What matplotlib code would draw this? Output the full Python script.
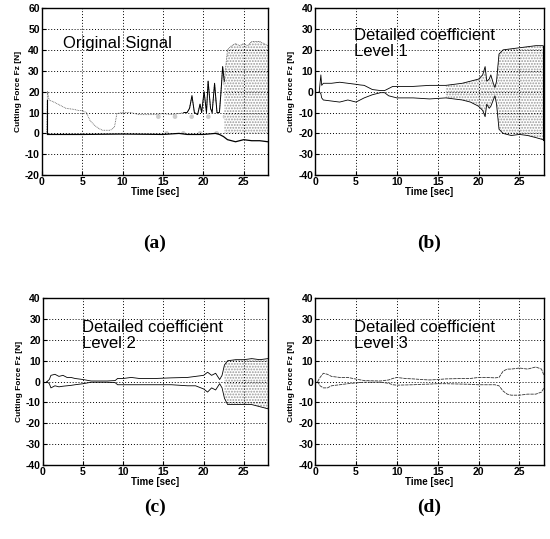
import matplotlib
matplotlib.use("Agg")
import matplotlib.pyplot as plt

plt.rcParams["hatch.linewidth"] = 0.9
plt.rcParams["axes.unicode_minus"] = False

# (a) original signal
t_a = [0.6, 0.7, 0.9, 1.5, 2.0, 2.5, 3.0, 4.0, 4.5, 5.0, 5.5, 6.0, 6.5, 7.0, 7.5, 8.5, 9.0, 9.3,
       10.0, 11.0, 12.0, 13.0, 14.0, 15.0, 16.0, 17.0, 17.6, 18.0, 18.3, 18.6, 18.9, 19.3, 19.6,
       19.8, 20.1, 20.4, 20.6, 20.9, 21.1, 21.4, 21.7, 22.0, 22.2, 22.4, 22.6, 23.0, 23.5, 24.0,
       24.5, 25.0, 25.5, 26.0, 27.0, 28.0]
up_a = [0, 20, 16, 15, 14, 13, 12, 11.5, 11, 11, 10, 6, 4, 2.5, 1.5, 1.5, 3, 9.5,
        10, 10, 9, 9, 9, 9.5, 9, 9.5, 10, 10, 12, 18, 10, 9, 14,
        10, 20, 10, 25, 12, 10, 24, 10, 10, 20, 32, 25, 40, 42, 43,
        42, 43, 42, 44, 44, 42]
t_a_low = [0.7, 2.0, 5.0, 10.0, 15.0, 17.0, 18.0, 20.0, 21.5, 22.0, 22.5, 23.0, 24.0, 25.0,
           26.0, 27.0, 28.0]
low_a = [-0.5, -0.5, -0.5, -0.3, -0.5, 0, -0.5, -0.5, 0, -0.5, -1.5, -3, -4, -3, -3.5, -3.5, -4]

# (b) detailed coefficient level 1
t_b = [0.5, 0.7, 0.8, 1.0, 2.0, 3.0, 4.0, 5.0, 5.5, 6.0, 7.0, 8.0, 8.5, 9.0, 9.5, 10.0, 12.0,
       14.0, 16.0, 17.0, 18.0, 19.0, 20.0, 20.5, 20.8, 21.0, 21.3, 21.5, 21.8, 22.0, 22.2, 22.5,
       23.0, 24.0, 25.0, 26.0, 27.0, 27.9]
up_b = [0, 8, 3, 4, 4, 4.5, 4, 3.5, 3.2, 3, 1, 0.5, 0.5, 1.5, 2.5, 2.5, 2.5,
        3, 3, 3.5, 4, 5, 6, 8, 12, 5, 6, 8, 4, 2, 5, 18,
        20, 20.5, 21, 21.5, 22, 22]
low_b = [0, -1, -3, -4, -4.5, -5, -4, -5, -4, -3, -1.5, -0.5, -0.5, -2, -2.5, -3, -3,
         -3.5, -3, -3.5, -4, -5, -7, -9, -12, -6, -8, -7, -4, -2, -6, -18,
         -20, -21, -20.5, -21, -22, -23]

# (c) detailed coefficient level 2
t_c = [0.5, 0.8, 1.0, 1.5, 2.0, 2.5, 3.0, 3.5, 4.0, 5.0, 6.0, 8.0, 9.0, 9.3, 10.0, 11.0, 12.0,
       14.0, 16.0, 18.0, 19.0, 20.0, 20.5, 21.0, 21.5, 22.0, 22.3, 22.6, 23.0, 24.0, 25.0,
       26.0, 27.0, 28.0]
up_c = [0, 1, 3, 3.5, 2.5, 3, 2, 2, 1.5, 1, 0.3, 0.3, 0.5, 1.5, 1.5, 2, 1.5,
        1.5, 1.8, 2, 2.5, 3, 4.5, 3, 4, 1, 3, 8, 10, 10.5, 10.5,
        11, 10.5, 11]
low_c = [0, -1, -3, -2, -2.5, -2.2, -2, -1.8, -1.5, -1, -0.3, -0.3, -0.5, -1.5, -1.5, -1.5, -1.5,
         -1.5, -1.5, -2, -2, -3.5, -5, -3, -4, -1, -3, -8, -11, -11, -11,
         -11, -12, -13]

# (d) detailed coefficient level 3
t_d = [0.3, 0.6, 1.0, 1.5, 2.0, 3.0, 4.0, 5.0, 6.0, 8.0, 9.0, 9.5, 10.0, 11.0, 12.0, 13.0,
       14.0, 15.0, 16.0, 18.0, 19.0, 20.0, 21.0, 22.0, 22.5, 23.0, 23.5, 24.0, 25.0, 26.0,
       27.0, 27.7, 28.0]
up_d = [0, 2, 4, 3.5, 2.5, 2, 2, 1.2, 0.5, 0.3, 0.8, 1.5, 2, 1.5, 1.3, 1,
        0.8, 1, 1.3, 1.5, 1.5, 2, 2, 1.8, 2, 5, 6, 6, 6.5, 6,
        7, 6, 3]
low_d = [0, -2, -3, -3, -2, -1.5, -1, -0.6, -0.3, -0.3, -0.8, -1.5, -1.7, -1.6, -1.5, -1.3,
         -1.2, -1, -1, -1.2, -1.3, -1.5, -1.5, -1.5, -2, -4.5, -6, -6.5, -6.5, -6,
         -6, -5, -3]

xticks = [0, 5, 10, 15, 20, 25]
tick_font = dict(family="Liberation Sans", size=7.5, weight="bold")


def _setup(ax, ylim, text, tx, ty, letter, letter_y):
    ax.set_xlim(0, 28)
    ax.set_ylim(*ylim)
    ax.set_xticks(xticks)
    ax.set_yticks(range(ylim[0], ylim[1] + 1, 10))
    ax.grid(True, color="black", linestyle=(0, (1, 2)), linewidth=0.7)
    ax.tick_params(direction="in", length=3, width=0.8, pad=1.5)
    for lab in ax.get_xticklabels() + ax.get_yticklabels():
        lab.set_fontproperties(tick_font)
    for s in ax.spines.values():
        s.set_linewidth(1.0)
    ax.set_xlabel("Time [sec]", fontsize=7, fontweight="bold", family="Liberation Sans", labelpad=0)
    ax.set_ylabel("Cutting Force Fz [N]", fontsize=6, fontweight="bold", family="Liberation Sans",
                  labelpad=2)
    ax.text(tx, ty, text, fontsize=12, family="Liberation Sans", va="center", ha="left",
            linespacing=1.05)
    ax.text(0.5, letter_y, letter, transform=ax.transAxes, fontsize=14, fontweight="bold",
            family="Liberation Serif", ha="center", va="center")


fig = plt.figure(figsize=(5.5, 5.39), dpi=100)
ax_a = fig.add_axes([0.076, 0.675, 0.411, 0.310])
ax_b = fig.add_axes([0.573, 0.675, 0.416, 0.310])
ax_c = fig.add_axes([0.078, 0.137, 0.409, 0.310])
ax_d = fig.add_axes([0.573, 0.137, 0.416, 0.310])

# (a)
ax_a.plot(t_a, up_a, color="#555555", linewidth=0.6, linestyle=(0, (1, 1)))
ax_a.plot(t_a[26:45], up_a[26:45], color="black", linewidth=0.7)
ax_a.plot([0.7, 0.7], [0, 16], color="black", linewidth=0.8)
ax_a.plot(t_a_low, low_a, color="black", linewidth=0.9)
ax_a.fill_between(t_a[44:], [0] * len(t_a[44:]), up_a[44:], facecolor="none",
                  edgecolor="#999999", hatch="......", linewidth=0)
ax_a.fill_between(t_a[22:45], [0] * 23, up_a[22:45], facecolor="none",
                  edgecolor="#cccccc", hatch=".", linewidth=0)
_setup(ax_a, (-20, 60), "Original Signal", 2.6, 43, "(a)", -0.41)

# (b)
ax_b.plot(t_b, up_b, color="black", linewidth=0.6)
ax_b.plot(t_b, low_b, color="black", linewidth=0.6)
ax_b.plot([t_b[-1], t_b[-1]], [low_b[-1], up_b[-1]], color="black", linewidth=0.8)
ax_b.fill_between(t_b[18:], low_b[18:], up_b[18:], facecolor="none",
                  edgecolor="#999999", hatch="......", linewidth=0)
_setup(ax_b, (-40, 40), "Detailed coefficient\nLevel 1", 4.8, 23, "(b)", -0.41)

# (c)
ax_c.plot(t_c, up_c, color="black", linewidth=0.6)
ax_c.plot(t_c, low_c, color="black", linewidth=0.6)
ax_c.fill_between(t_c[27:], low_c[27:], up_c[27:], facecolor="none",
                  edgecolor="#999999", hatch="......", linewidth=0)
_setup(ax_c, (-40, 40), "Detailed coefficient\nLevel 2", 4.85, 22, "(c)", -0.25)

# (d)
ax_d.plot(t_d, up_d, color="#333333", linewidth=0.6, linestyle=(0, (4, 1)))
ax_d.plot(t_d, low_d, color="#333333", linewidth=0.6, linestyle=(0, (4, 1)))
ax_d.plot([t_d[-1], t_d[-1]], [low_d[-1], up_d[-1]], color="black", linewidth=0.8)
_setup(ax_d, (-40, 40), "Detailed coefficient\nLevel 3", 4.8, 22, "(d)", -0.25)

fig.savefig("out.png", dpi=100)
